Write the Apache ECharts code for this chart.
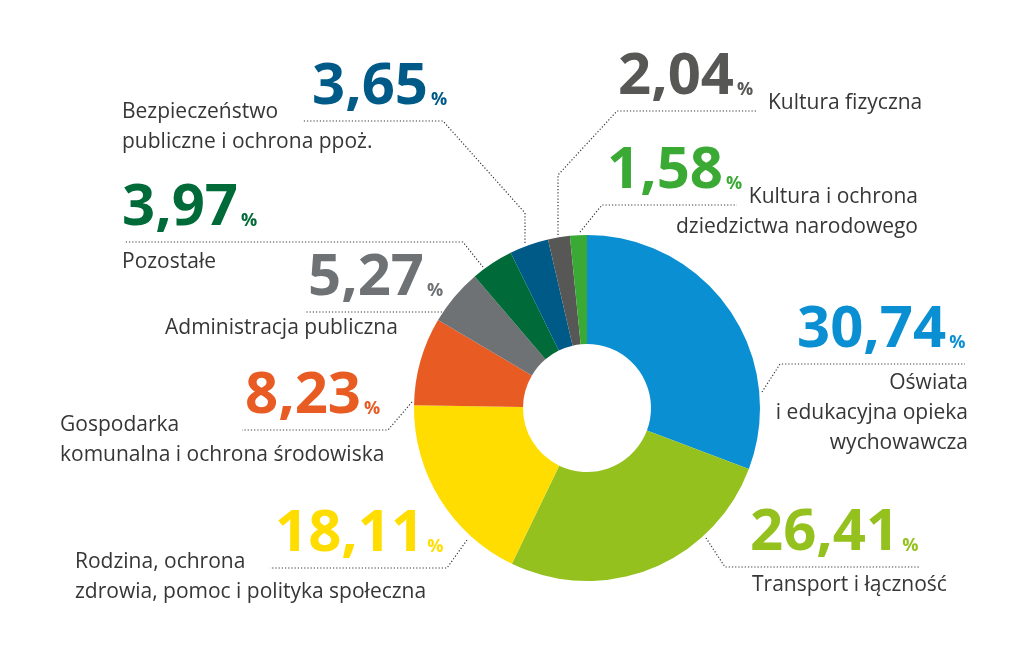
<!DOCTYPE html>
<html><head><meta charset="utf-8">
<script src="https://cdn.jsdelivr.net/npm/echarts@6/dist/echarts.min.js"></script>
<style>html,body{margin:0;padding:0;background:#fff}#c{width:1024px;height:670px}</style>
</head><body><div id="c"></div>
<script>
// ---- data ----
const categories = [
  'Oświata\ni edukacyjna opieka\nwychowawcza',
  'Transport i łączność',
  'Rodzina, ochrona\nzdrowia, pomoc i polityka społeczna',
  'Gospodarka\nkomunalna i ochrona środowiska',
  'Administracja publiczna',
  'Pozostałe',
  'Bezpieczeństwo\npubliczne i ochrona ppoż.',
  'Kultura fizyczna',
  'Kultura i ochrona\ndziedzictwa narodowego'
];
const values = [30.74, 26.41, 18.11, 8.23, 5.27, 3.97, 3.65, 2.04, 1.58];

// ---- styles / layout ----
const colors = ['#0A8FD2', '#95C11F', '#FFDD00', '#E85B23', '#6E7275', '#006B38', '#005A87', '#575756', '#3AAA35'];
const textColor = '#363636';
const FONT = '"Open Sans", "Noto Sans", sans-serif';
// number label: [x, dotted line y, align]
const numPos = [
  [797, 364, 'left'], [750, 567, 'left'], [275, 568, 'left'], [245, 430, 'left'], [308, 312, 'left'],
  [122, 242, 'left'], [312, 121, 'left'], [618, 111, 'left'], [607, 205, 'left']
];
// name label: [x, top y, align]
const namePos = [
  [968, 368, 'right'], [752, 570, 'left'], [75, 547, 'left'], [60, 410, 'left'], [165, 313, 'left'],
  [122, 247, 'left'], [122, 97, 'left'], [768, 88, 'left'], [918, 182, 'right']
];
const leaders = [
  [[762, 392], [780, 364], [965, 364]],
  [[706, 538], [725, 567], [920, 567]],
  [[467, 540], [447, 568], [270, 568]],
  [[412, 402], [388, 430], [242, 430]],
  [[442, 312], [305, 312]],
  [[483, 267], [463, 242], [125, 242]],
  [[525, 243], [525, 213], [443, 121], [303, 121]],
  [[558, 235], [558, 175], [617, 111], [757, 111]],
  [[580, 232], [602, 205], [737, 205]]
];
const NUM_GAP = 5;

const fmt = v => v.toFixed(2).replace('.', ',');
const data = categories.map((c, i) => ({
  name: c, value: values[i],
  itemStyle: { color: colors[i] },
  label: {
    rich: {
      n: { fontFamily: FONT, fontWeight: 'bold', fontSize: 58, lineHeight: 58, color: colors[i] },
      p: { fontFamily: FONT, fontWeight: 'bold', fontSize: 18, lineHeight: 18, color: colors[i], verticalAlign: 'bottom', padding: [0, 0, 7, 3] }
    }
  }
}));

const chart = echarts.init(document.getElementById('c'), null, { renderer: 'canvas' });
chart.setOption({
  animation: false,
  backgroundColor: '#fff',
  series: [
    {
      type: 'pie', center: [587, 408], radius: [64, 173], startAngle: 90, clockwise: true,
      avoidLabelOverlap: false, silent: true, emphasis: { disabled: true },
      data: data,
      label: { show: true, position: 'outside', formatter: p => '{n|' + fmt(p.value) + '}{p|%}' },
      labelLine: { show: true, lineStyle: { color: textColor, width: 1.2, type: [1.2, 2] } },
      labelLayout: p => {
        const q = numPos[p.dataIndex];
        return { x: q[0], y: q[1] - NUM_GAP, align: q[2], verticalAlign: 'bottom', labelLinePoints: leaders[p.dataIndex] };
      }
    },
    {
      type: 'pie', center: [587, 408], radius: [64, 173], startAngle: 90, clockwise: true,
      avoidLabelOverlap: false, silent: true, emphasis: { disabled: true },
      itemStyle: { color: 'rgba(0,0,0,0)' },
      data: categories.map((c, i) => ({ name: c, value: values[i] })),
      label: { show: true, position: 'outside', formatter: '{b}', fontFamily: FONT, fontSize: 21, lineHeight: 30, color: textColor },
      labelLine: { show: false },
      labelLayout: p => {
        const q = namePos[p.dataIndex];
        return { x: q[0], y: q[1], align: q[2], verticalAlign: 'top' };
      }
    }
  ]
});
</script></body></html>
